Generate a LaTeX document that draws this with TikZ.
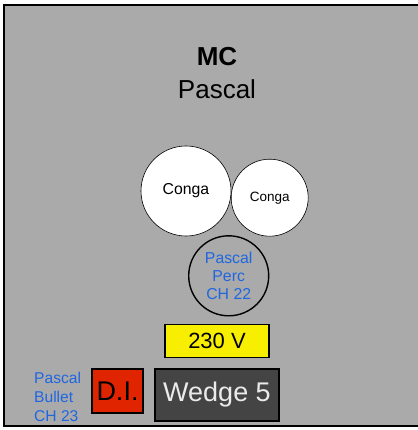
\documentclass[tikz,border=0pt]{standalone}
\usepackage{fontspec}
\setmainfont{Liberation Sans}
\definecolor{stagegray}{HTML}{AAAAAA}
\definecolor{chanblue}{HTML}{1F66E0}
\definecolor{powyellow}{HTML}{F7EE00}
\definecolor{direct}{HTML}{E02400}
\definecolor{wedgegray}{HTML}{444444}
\newcommand{\fs}[2]{\fontsize{#1}{#2}\selectfont}

\begin{document}
\begin{tikzpicture}[x=1pt,y=-1pt]
\useasboundingbox (0,0) rectangle (417,430);
\draw [fill=stagegray, line width=1.3pt] (4,5) rectangle (424,426);

\node (mc) at (217,57) {\fs{26}{30}\bfseries MC};
\node (name) at (217,89) {\fs{26}{30}Pascal};

\begin{scope}[every node/.style={circle,draw,inner sep=0pt}]
    \node (conga1) at (186,191) [fill=white, line width=0.6pt, minimum size=90] {\fs{15.8}{18}Conga};
    \node (conga2) at (269.7,197.7) [fill=white, line width=0.6pt, minimum size=77] {\fs{13.5}{16}Conga};
    \node (perc) at (228.7,275.8) [line width=1.4pt, minimum size=80, align=center, text=chanblue,
        font=\fs{15.8}{18}] {Pascal\\Perc\\CH 22};
\end{scope}

\begin{scope}[every node/.style={rectangle,draw,line width=1.1pt,inner sep=0pt}]
    \node (power) at (217,341) [fill=powyellow, minimum width=104, minimum height=33] {\fs{22}{26}230 V};
    \node (di) at (117.5,391) [fill=direct, minimum width=51, minimum height=44] {\fs{27}{30}D.I.};
    \node (wedge) at (217,395) [fill=wedgegray, text=white!92!black, minimum width=124, minimum height=52] {\fs{27}{30}Wedge 5};
\end{scope}

\node (bullet) at (34,397) [anchor=west, inner sep=0pt, align=left, text=chanblue, font=\fs{15.6}{19}] {Pascal\\Bullet\\CH 23};
\end{tikzpicture}
\end{document}
